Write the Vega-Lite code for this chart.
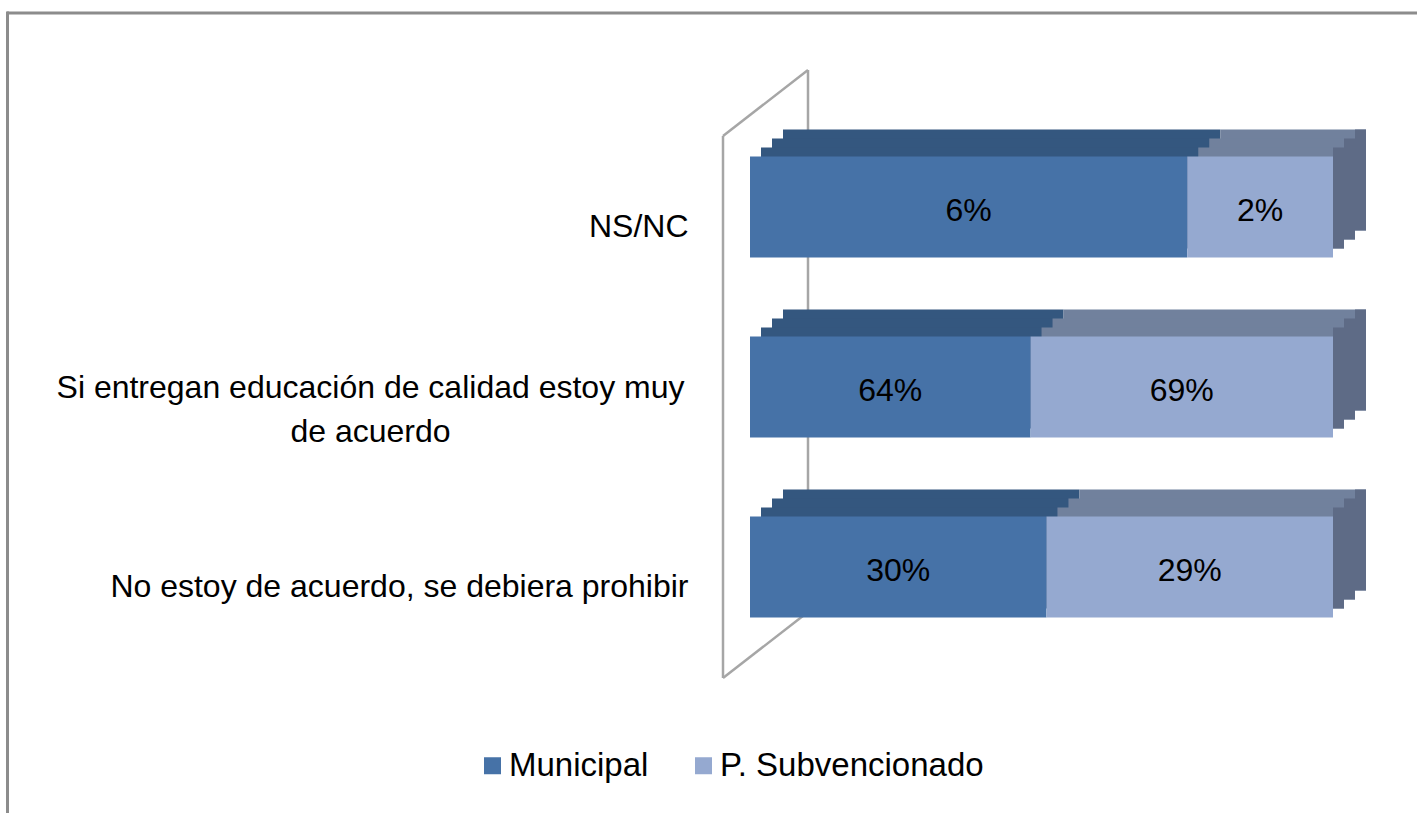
{
  "$schema": "https://vega.github.io/schema/vega-lite/v6.json",
  "autosize": {"type": "none"},
  "width": 583,
  "height": 540,
  "padding": {"left": 750, "top": 117, "right": 84, "bottom": 156},
  "background": "white",
  "config": {"view": {"stroke": null}, "font": "Liberation Sans"},
  "resolve": {"axis": {"y": "independent", "x": "independent"}},
  "data": {"values": [
    {"cat": "NS/NC", "serie": "Municipal", "v": 0.06},
    {"cat": "NS/NC", "serie": "P. Subvencionado", "v": 0.02},
    {"cat": "Si entregan educación de calidad estoy muy de acuerdo", "serie": "Municipal", "v": 0.64},
    {"cat": "Si entregan educación de calidad estoy muy de acuerdo", "serie": "P. Subvencionado", "v": 0.69},
    {"cat": "No estoy de acuerdo, se debiera prohibir", "serie": "Municipal", "v": 0.30},
    {"cat": "No estoy de acuerdo, se debiera prohibir", "serie": "P. Subvencionado", "v": 0.29}
  ]},
  "encoding": {
    "y": {
      "field": "cat", "type": "nominal", "title": null, "axis": null,
      "scale": {"domain": ["NS/NC", "Si entregan educación de calidad estoy muy de acuerdo", "No estoy de acuerdo, se debiera prohibir"], "paddingInner": 0.439, "paddingOuter": 0.2195}
    }
  },
  "layer": [
    {
      "data": {"values": [{}]},
      "mark": {"type": "rule", "color": "#8C8C8C", "strokeWidth": 3, "xOffset": -743, "x2Offset": 667, "yOffset": -143.5, "y2Offset": -194},
      "encoding": {"x": {"datum": 0, "type": "quantitative", "axis": null}, "x2": {"datum": 0}, "y": {"datum": "NS/NC", "bandPosition": 0, "axis": null}, "y2": {"datum": "NS/NC"}}
    },
    {
      "data": {"values": [{}]},
      "mark": {"type": "rule", "color": "#8C8C8C", "strokeWidth": 3, "xOffset": -742.5, "x2Offset": -742.5, "yOffset": -145, "y2Offset": 606},
      "encoding": {"x": {"datum": 0, "type": "quantitative", "axis": null}, "x2": {"datum": 0}, "y": {"datum": "NS/NC", "bandPosition": 0, "axis": null}, "y2": {"datum": "NS/NC"}}
    },
    {
      "data": {"values": [{}]},
      "mark": {"type": "rule", "color": "#A6A6A6", "strokeWidth": 2.5, "xOffset": -27, "x2Offset": -27, "yOffset": -20.5, "y2Offset": 471},
      "encoding": {"x": {"datum": 0, "type": "quantitative", "axis": null}, "x2": {"datum": 0}, "y": {"datum": "NS/NC", "bandPosition": 0, "axis": null}, "y2": {"datum": "NS/NC"}}
    },
    {
      "data": {"values": [{}]},
      "mark": {"type": "rule", "color": "#A6A6A6", "strokeWidth": 2.5, "xOffset": -27, "x2Offset": 58, "yOffset": -20.5, "y2Offset": -137},
      "encoding": {"x": {"datum": 0, "type": "quantitative", "axis": null}, "x2": {"datum": 0}, "y": {"datum": "NS/NC", "bandPosition": 0, "axis": null}, "y2": {"datum": "NS/NC"}}
    },
    {
      "data": {"values": [{}]},
      "mark": {"type": "rule", "color": "#A6A6A6", "strokeWidth": 2.5, "xOffset": 58, "x2Offset": 58, "yOffset": -86.5, "y2Offset": 405},
      "encoding": {"x": {"datum": 0, "type": "quantitative", "axis": null}, "x2": {"datum": 0}, "y": {"datum": "NS/NC", "bandPosition": 0, "axis": null}, "y2": {"datum": "NS/NC"}}
    },
    {
      "data": {"values": [{}]},
      "mark": {"type": "rule", "color": "#A6A6A6", "strokeWidth": 2.5, "xOffset": -27, "x2Offset": 58, "yOffset": 521.5, "y2Offset": 405},
      "encoding": {"x": {"datum": 0, "type": "quantitative", "axis": null}, "x2": {"datum": 0}, "y": {"datum": "NS/NC", "bandPosition": 0, "axis": null}, "y2": {"datum": "NS/NC"}}
    },
    {
      "mark": {"type": "bar", "xOffset": 33, "x2Offset": 33, "yOffset": -27},
      "encoding": {
        "x": {"field": "v", "type": "quantitative", "stack": "normalize", "scale": {"domain": [0, 1]}, "axis": null},
        "detail": {"field": "serie"},
        "order": {"field": "serie", "sort": "ascending"},
        "color": {"condition": {"test": "datum.serie === 'Municipal'", "value": "#34577F"}, "value": "#71819D"}
      }
    },
    {
      "mark": {"type": "bar", "xOffset": 22, "x2Offset": 22, "yOffset": -18},
      "encoding": {
        "x": {"field": "v", "type": "quantitative", "stack": "normalize", "scale": {"domain": [0, 1]}, "axis": null},
        "detail": {"field": "serie"},
        "order": {"field": "serie", "sort": "ascending"},
        "color": {"condition": {"test": "datum.serie === 'Municipal'", "value": "#34577F"}, "value": "#71819D"}
      }
    },
    {
      "mark": {"type": "bar", "xOffset": 11, "x2Offset": 11, "yOffset": -9},
      "encoding": {
        "x": {"field": "v", "type": "quantitative", "stack": "normalize", "scale": {"domain": [0, 1]}, "axis": null},
        "detail": {"field": "serie"},
        "order": {"field": "serie", "sort": "ascending"},
        "color": {"condition": {"test": "datum.serie === 'Municipal'", "value": "#34577F"}, "value": "#71819D"}
      }
    },
    {
      "transform": [{"filter": "datum.serie === 'P. Subvencionado'"}],
      "mark": {"type": "bar", "color": "#5E6B86", "xOffset": 0, "x2Offset": 11, "yOffset": -9},
      "encoding": {"x": {"datum": 1, "type": "quantitative", "axis": null}, "x2": {"datum": 1}}
    },
    {
      "transform": [{"filter": "datum.serie === 'P. Subvencionado'"}],
      "mark": {"type": "bar", "color": "#5E6B86", "xOffset": 11, "x2Offset": 22, "yOffset": -18},
      "encoding": {"x": {"datum": 1, "type": "quantitative", "axis": null}, "x2": {"datum": 1}}
    },
    {
      "transform": [{"filter": "datum.serie === 'P. Subvencionado'"}],
      "mark": {"type": "bar", "color": "#5E6B86", "xOffset": 22, "x2Offset": 33, "yOffset": -27},
      "encoding": {"x": {"datum": 1, "type": "quantitative", "axis": null}, "x2": {"datum": 1}}
    },
    {
      "mark": {"type": "bar"},
      "encoding": {
        "y": {
          "field": "cat", "type": "nominal", "title": null,
          "axis": {
            "ticks": false, "domain": false, "grid": false,
            "labelFont": "Liberation Sans", "labelFontSize": 32, "labelColor": "#000000",
            "labelLimit": 1000, "labelLineHeight": 44,
            "labelOffset": {"condition": {"test": "datum.value === 'Si entregan educación de calidad estoy muy de acuerdo'", "value": 1}, "value": 20},
            "labelAlign": {"condition": {"test": "datum.value === 'Si entregan educación de calidad estoy muy de acuerdo'", "value": "center"}, "value": "right"},
            "labelPadding": {"condition": {"test": "datum.value === 'Si entregan educación de calidad estoy muy de acuerdo'", "value": 380}, "value": 62},
            "labelExpr": "datum.value === 'Si entregan educación de calidad estoy muy de acuerdo' ? ['Si entregan educación de calidad estoy muy', 'de acuerdo'] : datum.value"
          }
        },
        "x": {"field": "v", "type": "quantitative", "stack": "normalize", "scale": {"domain": [0, 1]}, "axis": null},
        "order": {"field": "serie", "sort": "ascending"},
        "color": {
          "field": "serie", "type": "nominal",
          "scale": {"domain": ["Municipal", "P. Subvencionado"], "range": ["#4672A7", "#95A9D0"]},
          "legend": {
            "orient": "none", "legendX": -274, "legendY": 632, "direction": "horizontal", "title": null,
            "symbolType": "square", "symbolSize": 289, "symbolStrokeWidth": 0,
            "labelFont": "Liberation Sans", "labelFontSize": 33, "labelColor": "#000000", "labelOffset": 0,
            "columnPadding": 38, "labelLimit": 1000
          }
        }
      }
    },
    {
      "mark": {"type": "text", "font": "Liberation Sans", "fontSize": 32, "color": "#000000", "dy": 4},
      "encoding": {
        "x": {"field": "v", "type": "quantitative", "stack": "normalize", "bandPosition": 0.5, "scale": {"domain": [0, 1]}, "axis": null},
        "detail": {"field": "serie"},
        "order": {"field": "serie", "sort": "ascending"},
        "text": {"field": "v", "type": "quantitative", "format": ".0%"}
      }
    }
  ]
}
